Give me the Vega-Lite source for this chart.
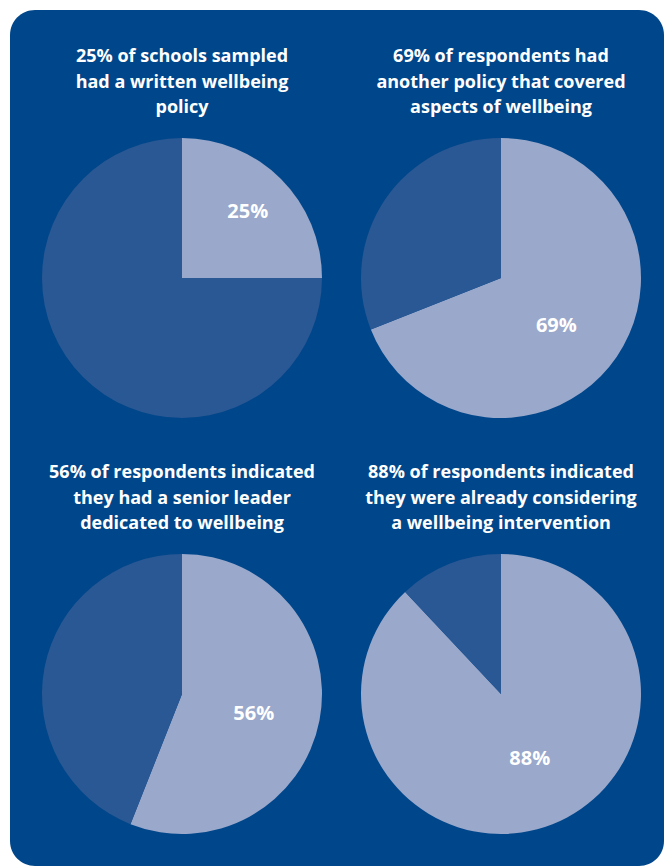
{
  "$schema": "https://vega.github.io/schema/vega-lite/v6.json",
  "width": 664,
  "height": 866,
  "autosize": {"type": "fit", "contains": "padding"},
  "padding": {"left": 10, "top": 10, "right": 0, "bottom": 0},
  "background": "#ffffff",
  "config": {"view": {"fill": "#00468a", "cornerRadius": 25, "stroke": null}},
  "datasets": {
    "slices": [
      {"panel": "p1", "col": 0, "row": 0, "part": "yes", "share": 0.25},
      {"panel": "p1", "col": 0, "row": 0, "part": "no", "share": 0.75},
      {"panel": "p2", "col": 1, "row": 0, "part": "yes", "share": 0.69},
      {"panel": "p2", "col": 1, "row": 0, "part": "no", "share": 0.31},
      {"panel": "p3", "col": 0, "row": 1, "part": "yes", "share": 0.56},
      {"panel": "p3", "col": 0, "row": 1, "part": "no", "share": 0.44},
      {"panel": "p4", "col": 1, "row": 1, "part": "yes", "share": 0.88},
      {"panel": "p4", "col": 1, "row": 1, "part": "no", "share": 0.12}
    ],
    "titles": [
      {"col": 0, "row": 0, "title": "25% of schools sampled\nhad a written wellbeing\npolicy"},
      {"col": 1, "row": 0, "title": "69% of respondents had\nanother policy that covered\naspects of wellbeing"},
      {"col": 0, "row": 1, "title": "56% of respondents indicated\nthey had a senior leader\ndedicated to wellbeing"},
      {"col": 1, "row": 1, "title": "88% of respondents indicated\nthey were already considering\na wellbeing intervention"}
    ]
  },
  "encoding": {
    "x": {"field": "col", "type": "quantitative", "scale": {"domain": [0, 1], "range": [172, 491], "nice": false, "zero": false}, "axis": null},
    "y": {"field": "row", "type": "quantitative", "scale": {"domain": [0, 1], "range": [268, 684], "nice": false, "zero": false}, "axis": null}
  },
  "layer": [
    {
      "data": {"name": "slices"},
      "transform": [{"filter": "datum.panel === 'p1'"}],
      "encoding": {
        "theta": {"field": "share", "type": "quantitative", "stack": true, "scale": {"domain": [0, 1]}},
        "order": {"field": "part", "sort": "descending"}
      },
      "layer": [
        {"mark": {"type": "arc", "radius": 140, "strokeWidth": 0},
         "encoding": {"color": {"field": "part", "type": "nominal", "scale": {"domain": ["yes", "no"], "range": ["#99a8cb", "#2a5894"]}, "legend": null}}},
        {"mark": {"type": "text", "radius": 93, "font": "Open Sans", "fontWeight": "bold", "fontSize": 20, "fill": "#ffffff", "align": "center", "baseline": "middle"},
         "encoding": {"detail": {"field": "part", "type": "nominal"},
           "text": {"field": "share", "type": "quantitative", "format": ".0%", "condition": {"test": "datum.part === 'no'", "value": ""}}}}
      ]
    },
    {
      "data": {"name": "slices"},
      "transform": [{"filter": "datum.panel === 'p2'"}],
      "encoding": {
        "theta": {"field": "share", "type": "quantitative", "stack": true, "scale": {"domain": [0, 1]}},
        "order": {"field": "part", "sort": "descending"}
      },
      "layer": [
        {"mark": {"type": "arc", "radius": 140, "strokeWidth": 0},
         "encoding": {"color": {"field": "part", "type": "nominal", "scale": {"domain": ["yes", "no"], "range": ["#99a8cb", "#2a5894"]}, "legend": null}}},
        {"mark": {"type": "text", "radius": 73, "dx": -5, "dy": 7, "font": "Open Sans", "fontWeight": "bold", "fontSize": 20, "fill": "#ffffff", "align": "center", "baseline": "middle"},
         "encoding": {"detail": {"field": "part", "type": "nominal"},
           "text": {"field": "share", "type": "quantitative", "format": ".0%", "condition": {"test": "datum.part === 'no'", "value": ""}}}}
      ]
    },
    {
      "data": {"name": "slices"},
      "transform": [{"filter": "datum.panel === 'p3'"}],
      "encoding": {
        "theta": {"field": "share", "type": "quantitative", "stack": true, "scale": {"domain": [0, 1]}},
        "order": {"field": "part", "sort": "descending"}
      },
      "layer": [
        {"mark": {"type": "arc", "radius": 140, "strokeWidth": 0},
         "encoding": {"color": {"field": "part", "type": "nominal", "scale": {"domain": ["yes", "no"], "range": ["#99a8cb", "#2a5894"]}, "legend": null}}},
        {"mark": {"type": "text", "radius": 73, "dy": 6, "font": "Open Sans", "fontWeight": "bold", "fontSize": 20, "fill": "#ffffff", "align": "center", "baseline": "middle"},
         "encoding": {"detail": {"field": "part", "type": "nominal"},
           "text": {"field": "share", "type": "quantitative", "format": ".0%", "condition": {"test": "datum.part === 'no'", "value": ""}}}}
      ]
    },
    {
      "data": {"name": "slices"},
      "transform": [{"filter": "datum.panel === 'p4'"}],
      "encoding": {
        "theta": {"field": "share", "type": "quantitative", "stack": true, "scale": {"domain": [0, 1]}},
        "order": {"field": "part", "sort": "descending"}
      },
      "layer": [
        {"mark": {"type": "arc", "radius": 140, "strokeWidth": 0},
         "encoding": {"color": {"field": "part", "type": "nominal", "scale": {"domain": ["yes", "no"], "range": ["#99a8cb", "#2a5894"]}, "legend": null}}},
        {"mark": {"type": "text", "radius": 70, "dx": 3, "font": "Open Sans", "fontWeight": "bold", "fontSize": 20, "fill": "#ffffff", "align": "center", "baseline": "middle"},
         "encoding": {"detail": {"field": "part", "type": "nominal"},
           "text": {"field": "share", "type": "quantitative", "format": ".0%", "condition": {"test": "datum.part === 'no'", "value": ""}}}}
      ]
    },
    {
      "data": {"name": "titles"},
      "mark": {"type": "text", "lineBreak": "\n", "lineHeight": 25.5, "font": "Open Sans", "fontWeight": "bold", "fontSize": 18, "fill": "#ffffff", "align": "center", "baseline": "middle", "dy": -221},
      "encoding": {"text": {"field": "title", "type": "nominal"}}
    }
  ]
}
